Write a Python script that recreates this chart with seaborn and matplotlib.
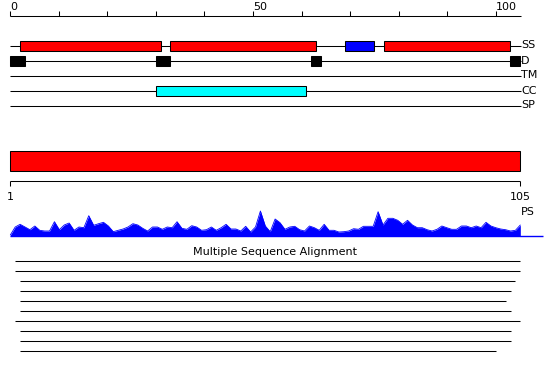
import numpy as np
import pandas as pd
import seaborn as sns
import matplotlib
matplotlib.use("Agg")
import matplotlib.pyplot as plt
from matplotlib.patches import Rectangle

# ---------------- data ----------------
track_labels = ["SS", "D", "TM", "CC", "SP"]
ss_start = [2, 33, 69, 77]
ss_end = [31, 63, 75, 103]
ss_color = ["#ff0000", "#ff0000", "#0000ff", "#ff0000"]
d_start = [0, 30, 62, 103]
d_end = [3, 33, 64, 105]
cc_start = [30]
cc_end = [61]
ruler_ticks = list(range(0, 101, 10))
ruler_labels = ["0", "50", "100"]
ruler_label_pos = [0, 50, 100]
seq_length = 105
seq_ticks = [1, 105]

ps_scores = [1, 9, 11.7, 9, 6.3, 10, 5.7, 5, 5, 14.3,
             6.3, 11, 13, 5.7, 9, 8.3, 20.3, 10.7, 12.3, 13.7,
             10, 4.3, 5.7, 7, 9, 12.3, 11, 7.7, 5, 9,
             9, 6.7, 9, 8.3, 14.3, 7.7, 6.7, 10.3, 9, 5.7,
             6.3, 9, 5.7, 8.3, 11.7, 7, 7, 5, 9.7, 4,
             9, 25, 10, 4.3, 17, 13.3, 6.7, 9, 9.7, 6.3,
             5, 10, 8.3, 5.7, 11.7, 5.7, 5.7, 4, 4.3, 5,
             7.3, 6.7, 9.7, 9.7, 9.7, 24.3, 11, 17.7, 17.7, 15.7,
             11.7, 15.7, 11, 8.3, 8.3, 6.3, 5, 6.7, 10, 8.3,
             6.7, 6.7, 10, 10, 8.3, 10, 8.3, 13.7, 10, 8.3,
             7, 6.3, 5, 5.7, 11]
residues = list(range(1, len(ps_scores) + 1))

msa_start = [2, 2, 3, 3, 3, 3, 2, 3, 3, 3]
msa_end = [105, 105, 104, 103, 102, 103, 105, 103, 103, 100]

# ---------------- layout ----------------
W, H = 550, 380
sns.set_style("white")
plt.rcParams["font.family"] = ["DejaVu Sans"]
plt.rcParams["text.color"] = "black"
FS = 8
LW = 0.75

fig = plt.figure(figsize=(W / 100, H / 100), dpi=100)
fig.patch.set_facecolor("white")

def full_axes():
    ax = fig.add_axes([0, 0, 1, 1])
    ax.set_axis_off()
    ax.patch.set_alpha(0)
    return ax

# top panel: unit scale 4.854 px / unit, 0 at x=10.3 px; y in pixels (top = 0)
pxu_top = 4.854
ax1 = full_axes()
ax1.set_xlim(-10.3 / pxu_top, (W - 10.3) / pxu_top)
ax1.set_ylim(H, 0)
line_end = 105.2

# ruler
ax1.hlines(15.5, 0, line_end, color="black", lw=LW)
ax1.vlines(ruler_ticks, 10.5, 15.5, color="black", lw=LW)
for p, lab in zip(ruler_label_pos, ruler_labels):
    ax1.text(p, 10, lab, ha="left", va="baseline", fontsize=FS, color="black")

# track rows
row_y = [45.5 + 15 * k for k in range(len(track_labels))]
for y, lab in zip(row_y, track_labels):
    ax1.hlines(y, 0, line_end, color="black", lw=LW, zorder=1)
    ax1.text(line_end, y, lab, ha="left", va="center", fontsize=FS, color="black")

def boxes(starts, ends, y, colors):
    for s, e, c in zip(starts, ends, colors):
        ax1.add_patch(Rectangle((s, y - 5), e - s, 10, facecolor=c,
                                edgecolor="black", lw=LW, zorder=2))

boxes(ss_start, ss_end, row_y[0], ss_color)
boxes(d_start, d_end, row_y[1], ["black"] * len(d_start))
boxes(cc_start, cc_end, row_y[3], ["#00ffff"] * len(cc_start))

# lower panels: residue scale 4.904 px / residue, residue 1 at x=10.3 px
pxu = 4.904
xlim2 = (1 - 10.3 / pxu, 1 + (W - 10.3) / pxu)
ax2 = full_axes()
ax2.set_xlim(*xlim2)
ax2.set_ylim(H, 0)

ax2.add_patch(Rectangle((1, 150.5), seq_length - 1, 20, facecolor="#ff0000",
                        edgecolor="black", lw=LW))
ax2.hlines(180.5, 1, seq_length, color="black", lw=LW)
ax2.vlines(seq_ticks, 180.5, 185.5, color="black", lw=LW)
for t in seq_ticks:
    ax2.text(t, 200, str(t), ha="center", va="baseline", fontsize=FS, color="black")
ax2.text(seq_length + 0.15, 215, "PS", ha="left", va="baseline", fontsize=FS,
         color="black")

# MSA
fig.text(0.5, 1 - 255 / H, "Multiple Sequence Alignment", ha="center",
         va="baseline", fontsize=FS, color="black")
for j, (s, e) in enumerate(zip(msa_start, msa_end)):
    ax2.hlines(260.5 + 10 * j, s, e, color="black", lw=LW)

# PS profile
ax3 = full_axes()
ax3.set_xlim(*xlim2)
ax3.set_ylim(-(H - 236), 236)
df = pd.DataFrame({"residue": residues, "score": ps_scores})
ax3.fill_between(df["residue"], 0, df["score"], color="#0000ff", lw=0)
sns.lineplot(data=df, x="residue", y="score", ax=ax3, color="#0000ff", lw=0.6)
ax3.hlines(0.5, 1, 109.6, color="#0000ff", lw=1.0)
ax3.set_axis_off()

fig.savefig("out.png", dpi=100, facecolor="white")
